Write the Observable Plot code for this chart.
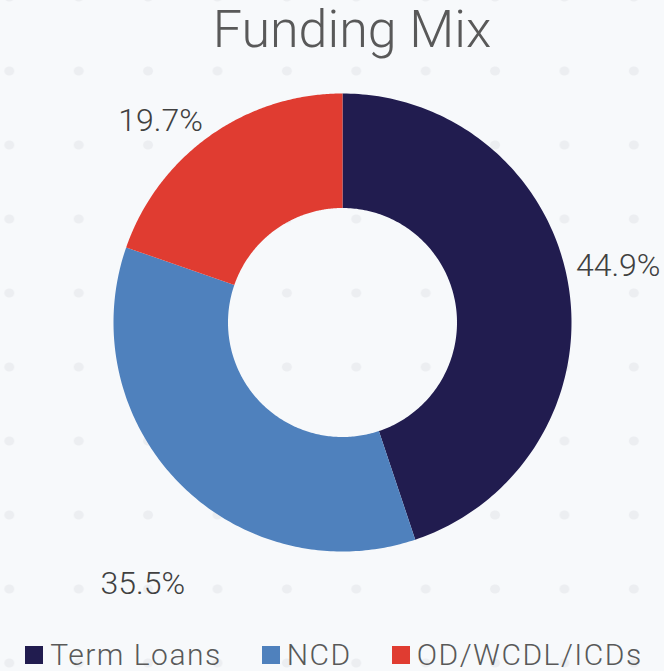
<!DOCTYPE html>
<html>
<head>
<meta charset="utf-8">
<script src="https://cdn.jsdelivr.net/npm/d3@7"></script>
<script src="https://cdn.jsdelivr.net/npm/@observablehq/plot@0.6"></script>
<style>
  html, body { margin: 0; padding: 0; }
  body {
    width: 664px; height: 671px; overflow: hidden;
    background-color: #f7f9fb;
    background-image: radial-gradient(ellipse 5.5px 5px at center, #eceef1 80%, rgba(236,238,241,0) 100%);
    background-size: 69.4px 74px;
    background-position: -25.4px 34px;
    font-family: Roboto, "Open Sans", sans-serif;
    font-weight: 300;
  }
  #title {
    height: 70px; box-sizing: border-box;
    padding-top: 4px; padding-left: 40px;
    font-size: 52px; line-height: 52px;
    text-align: center; color: #595959;
  }
  #legend {
    height: 41px; box-sizing: border-box; padding-top: 8px; padding-left: 4px;
    display: flex; justify-content: center; align-items: center; gap: 40px;
    font-size: 30px; line-height: 26px; color: #595959; letter-spacing: 1.5px;
  }
  .item { display: flex; align-items: center; }
  .sw { width: 18px; height: 18px; margin-right: 7px; }
</style>
</head>
<body>
<div id="title">Funding Mix</div>
<div id="chart"></div>
<div id="legend"></div>
<script>
const categories = ["Term Loans", "NCD", "OD/WCDL/ICDs"];
const values = [44.9, 35.5, 19.7];
const valueLabels = ["44.9%", "35.5%", "19.7%"];

const colors = ["#211c4f", "#4f81bd", "#e03c31"];
const innerRatio = 0.5;

const slices = d3.pie().sort(null).value(d => d)(values).map((s, i) => ({
  category: categories[i], value: values[i], label: valueLabels[i],
  start: s.startAngle, end: s.endAngle, mid: (s.startAngle + s.endAngle) / 2
}));

function ring(s) {
  const n = 160, pts = [];
  for (let k = 0; k <= n; k++) {
    const a = s.start + (s.end - s.start) * k / n;
    pts.push({x: Math.sin(a), y: Math.cos(a)});
  }
  for (let k = n; k >= 0; k--) {
    const a = s.start + (s.end - s.start) * k / n;
    pts.push({x: innerRatio * Math.sin(a), y: innerRatio * Math.cos(a)});
  }
  return pts;
}

// label nudges (px) to follow the reference's hand-placed labels
const nudge = [[0, -12], [-1, 65], [-20, 26]];
const labelR = 1.22;

const marks = [];
slices.forEach((s, i) => {
  marks.push(Plot.line(ring(s), {x: "x", y: "y", fill: colors[i], stroke: "none", curve: "linear"}));
});
slices.forEach((s, i) => {
  marks.push(Plot.text([s], {
    x: d => labelR * Math.sin(d.mid),
    y: d => labelR * Math.cos(d.mid),
    text: "label",
    dx: nudge[i][0], dy: nudge[i][1],
    fontSize: 32, fill: "#404040",
    fontFamily: "Roboto, 'Open Sans', sans-serif", fontWeight: 300,
    textAnchor: "middle"
  }));
});

const plot = Plot.plot({
  width: 664, height: 560,
  marginLeft: 113, marginRight: 93, marginTop: 23, marginBottom: 79,
  x: {domain: [-1, 1], axis: null},
  y: {domain: [-1, 1], axis: null},
  style: {background: "transparent", overflow: "visible"},
  marks
});
document.getElementById("chart").appendChild(plot);

const legend = document.getElementById("legend");
categories.forEach((c, i) => {
  const item = document.createElement("div");
  item.className = "item";
  const sw = document.createElement("span");
  sw.className = "sw";
  sw.style.background = colors[i];
  const t = document.createElement("span");
  t.textContent = c;
  item.appendChild(sw); item.appendChild(t);
  legend.appendChild(item);
});
</script>
</body>
</html>
